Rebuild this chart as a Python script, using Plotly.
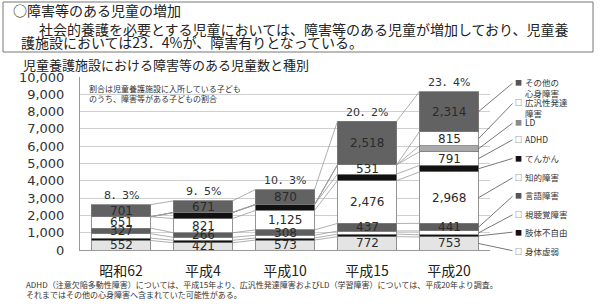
import plotly.graph_objects as go

# ---------------- data ----------------
years = ["昭和62", "平成4", "平成10", "平成15", "平成20"]
pct_labels = ["8．3%", "9．5%", "10．3%", "20．2%", "23．4%"]

series_names = ["身体虚弱", "肢体不自由", "視聴覚障害", "言語障害", "知的障害",
                "てんかん", "ADHD", "LD", "広汎性発達障害", "その他の心身障害"]
shintai_kyojaku = [552, 421, 573, 772, 753]
shitai_fujiyu = [135, 140, 120, 145, 126]
shichokaku = [255, 170, 160, 180, 221]
gengo = [327, 266, 308, 437, 441]
chiteki = [651, 821, 1125, 2476, 2968]
tenkan = [0, 350, 340, 380, 379]
adhd = [0, 0, 0, 531, 791]
ld = [0, 0, 0, 0, 348]
kouhansei = [0, 0, 0, 0, 815]
sonota = [701, 671, 870, 2518, 2314]
series_values = [shintai_kyojaku, shitai_fujiyu, shichokaku, gengo, chiteki,
                 tenkan, adhd, ld, kouhansei, sonota]
labeled_series = {"身体虚弱", "言語障害", "知的障害", "ADHD", "広汎性発達障害", "その他の心身障害"}

y_ticks = list(range(0, 10001, 1000))

# ---------------- styles ----------------
fills = ["#e4e4e4", "#111111", "#ffffff", "#5e5e5e", "#ffffff",
         "#111111", "#ffffff", "#a9a9a9", "#ffffff", "#626262"]

# legend rows (top -> bottom): series index, label text, pixel y of text centre,
# pixel y of glyph / connector end, glyph colour, glyph
legend_rows = [
    (9, "その他の<br>心身障害", 87, 82, "#555555", "■"),
    (8, "広汎性発達<br>障害", 107, 102, "#333333", "□"),
    (7, "LD", 122, 122, "#8a8a8a", "■"),
    (6, "ADHD", 139, 139, "#333333", "□"),
    (5, "てんかん", 158, 158, "#111111", "■"),
    (4, "知的障害", 177, 177, "#333333", "□"),
    (3, "言語障害", 195, 195, "#555555", "■"),
    (2, "視聴覚障害", 214, 214, "#333333", "□"),
    (1, "肢体不自由", 232, 232, "#111111", "■"),
    (0, "身体虚弱", 251, 251, "#333333", "□"),
]

W, H = 600, 306
L, R, T, B = 80, 110, 77, 56
PW, PH = W - L - R, H - T - B
BAR_W = 0.72
XR = (-0.5, 4.5)
YR = (0, 10000)

NUM_FONT = "DejaVu Sans, Noto Sans CJK JP, sans-serif"
JP_FONT = "Noto Sans CJK JP, DejaVu Sans, sans-serif"


def px2x(px):
    return XR[0] + (px - L) / PW * (XR[1] - XR[0])


def py2y(py):
    return (T + PH - py) / PH * (YR[1] - YR[0])


def px2paper(px):
    return (px - L) / PW


def py2paper(py):
    return (T + PH - py) / PH


xs = list(range(len(years)))
fig = go.Figure()

for name, vals, col in zip(series_names, series_values, fills):
    fig.add_trace(go.Bar(
        x=xs, y=vals, name=name, width=BAR_W,
        marker=dict(color=col, line=dict(color="#7a7a7a", width=0.8)),
        showlegend=False, hoverinfo="skip",
    ))

# cumulative tops
cum = []
for i in range(len(years)):
    run = 0
    row = []
    for vals in series_values:
        run += vals[i]
        row.append(run)
    cum.append(row)

# series lines between bars
lx, ly = [], []
for k in range(len(series_names)):
    for i in range(len(years) - 1):
        lx += [xs[i] + BAR_W / 2, xs[i + 1] - BAR_W / 2, None]
        ly += [cum[i][k], cum[i + 1][k], None]
fig.add_trace(go.Scatter(x=lx, y=ly, mode="lines",
                         line=dict(color="#9a9a9a", width=0.8),
                         showlegend=False, hoverinfo="skip"))

ann = []
# value labels inside segments
for k, (name, vals) in enumerate(zip(series_names, series_values)):
    if name not in labeled_series:
        continue
    for i, v in enumerate(vals):
        if v <= 0:
            continue
        mid = cum[i][k] - v / 2
        ann.append(dict(x=xs[i], y=mid, xref="x", yref="y", text=f"{v:,}",
                        showarrow=False, font=dict(family=NUM_FONT, size=12, color="#2b2b2b")))

# percentage labels
for i, t in enumerate(pct_labels):
    ann.append(dict(x=xs[i], y=cum[i][-1], xref="x", yref="y", text=t, yshift=9,
                    showarrow=False, font=dict(family=NUM_FONT, size=11, color="#333")))

# legend with connector lines
for k, label, ty, gy, gcol, glyph in legend_rows:
    vals = series_values[k]
    mid = cum[4][k] - vals[4] / 2
    ann.append(dict(x=xs[4] + BAR_W / 2, y=mid, xref="x", yref="y",
                    axref="x", ayref="y", ax=px2x(514), ay=py2y(gy),
                    text="", showarrow=True, arrowhead=0, arrowwidth=0.8,
                    arrowcolor="#555"))
    ann.append(dict(x=px2paper(518), y=py2paper(gy), xref="paper", yref="paper",
                    text=glyph, showarrow=False, xanchor="center", yanchor="middle",
                    font=dict(family=JP_FONT, size=7, color=gcol)))
    ann.append(dict(x=px2paper(523), y=py2paper(ty), xref="paper", yref="paper",
                    text=label, showarrow=False, xanchor="left", yanchor="middle",
                    align="left", font=dict(family=JP_FONT, size=8.5, color="#333")))

# note inside the plot
ann.append(dict(x=px2paper(87), y=py2paper(93), xref="paper", yref="paper",
                text="割合は児童養護施設に入所している子ども<br>のうち、障害等がある子どもの割合",
                showarrow=False, xanchor="left", yanchor="middle", align="left",
                font=dict(family=JP_FONT, size=8, color="#333")))

# chart title
ann.append(dict(x=px2paper(21), y=py2paper(64), xref="paper", yref="paper",
                text="児童養護施設における障害等のある児童数と種別",
                showarrow=False, xanchor="left", yanchor="middle",
                font=dict(family=JP_FONT, size=13, color="#222")))

# header box text
for t, x0, yy in [("○障害等のある児童の増加", 11, 10),
                  ("社会的養護を必要とする児童においては、障害等のある児童が増加しており、児童養", 37, 29),
                  ("護施設においては23．4%が、障害有りとなっている。", 19, 42)]:
    ann.append(dict(x=px2paper(x0), y=py2paper(yy), xref="paper", yref="paper", text=t,
                    showarrow=False, xanchor="left", yanchor="middle",
                    font=dict(family=JP_FONT, size=14, color="#222")))

# footnote
ann.append(dict(x=px2paper(24), y=py2paper(289), xref="paper", yref="paper",
                text="ADHD（注意欠陥多動性障害）については、平成15年より、広汎性発達障害およびLD（学習障害）については、平成20年より調査。"
                     "<br>それまではその他の心身障害へ含まれていた可能性がある。",
                showarrow=False, xanchor="left", yanchor="middle", align="left",
                font=dict(family=JP_FONT, size=8, color="#333")))

shapes = [dict(type="rect", xref="paper", yref="paper",
               x0=px2paper(3), x1=px2paper(593), y0=py2paper(52), y1=py2paper(2),
               line=dict(color="#777", width=1), fillcolor="rgba(0,0,0,0)")]

fig.update_layout(
    width=W, height=H, margin=dict(l=L, r=R, t=T, b=B),
    paper_bgcolor="white", plot_bgcolor="white",
    barmode="stack", annotations=ann, shapes=shapes,
    xaxis=dict(range=list(XR), tickvals=xs, ticktext=years, showgrid=False,
               showline=True, linecolor="#999", linewidth=1, ticks="",
               ticklabelstandoff=8, zeroline=False,
               tickfont=dict(family=JP_FONT, size=14, color="#222")),
    yaxis=dict(range=list(YR), tickvals=y_ticks, tickformat=",d",
               showgrid=True, gridcolor="#cfcfcf", gridwidth=1,
               showline=True, linecolor="#999", linewidth=1, zeroline=False,
               ticks="", ticklabelstandoff=12,
               tickfont=dict(family=NUM_FONT, size=13, color="#333")),
)

fig.write_html("out.html")
